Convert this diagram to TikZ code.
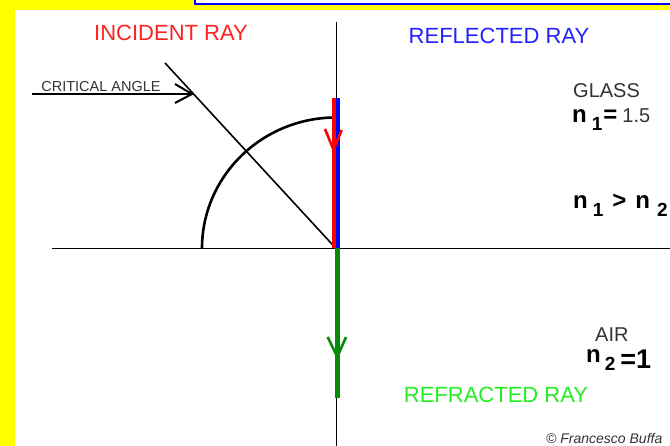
\documentclass[tikz,border=0pt]{standalone}
\usepackage{fontspec}
\setmainfont{Liberation Sans}
\definecolor{rayred}{HTML}{FF0000}
\definecolor{rayblue}{HTML}{0000FF}
\definecolor{raygreen}{HTML}{0A8A0A}
\definecolor{textred}{HTML}{FF2222}
\definecolor{textblue}{HTML}{2222FF}
\definecolor{textgreen}{HTML}{22EE22}
\definecolor{inkgray}{HTML}{333333}
\definecolor{bgyellow}{HTML}{FFFF00}
\usetikzlibrary{positioning}

\begin{document}
\begin{tikzpicture}[x=1pt,y=1pt,
    caption/.style={inner sep=0pt,font=\fontsize{22}{22}\selectfont},
    ray/.style={line width=4pt},
    barb/.style={line width=2.6pt}]
    \clip (0,0) rectangle (670,446);
    \fill[bgyellow] (0,0) rectangle (670,446);
    \fill[white] (15,0) rectangle (670,436);
    \draw[rayblue,fill=white,line width=2pt] (195,441.5) rectangle (700,470);
    % axes
    \coordinate (O) at (336,197.5);
    \coordinate (top) at (336,424);
    \coordinate (bottom) at (336,-5);
    \coordinate (left) at (52,197.5);
    \coordinate (right) at (675,197.5);
    \draw[line width=1pt] (top) -- (bottom);
    \draw[line width=1pt] (left) -- (right);
    % critical angle line and arc
    \coordinate (crit) at (165,383);
    \draw[line width=1.6pt] (crit) -- (O);
    \draw[line width=2.6pt] (202,197.5) arc[start angle=180,end angle=90,x radius=134,y radius=131] -- (O |- 0,328.5);
    % rays
    \draw[ray,rayred] (333.8,197.5) -- (333.8,348);
    \draw[ray,rayblue] (338,197.5) -- (338,348);
    \draw[barb,rayred] (325,317) -- (333.6,296) -- (341.7,316);
    \draw[line width=4.5pt,raygreen] (337.3,197.5) -- (337.3,48);
    \draw[barb,raygreen] (327.7,109) -- (337.3,89) -- (346,109);
    % labels
    \node[caption,textred] (incident) at (171,413) {INCIDENT RAY};
    \node[caption,textblue] (reflected) at (499,410) {REFLECTED RAY};
    \node[caption,textgreen] (refracted) at (496,51.5) {REFRACTED RAY};
    \node[inner sep=0pt,inkgray,font=\fontsize{14.5}{14.5}\selectfont] (critlabel) at (101,359) {CRITICAL ANGLE};
    \coordinate (tip) at (192,352);
    \draw[line width=2pt] (32,352) -- (tip);
    \draw[line width=2pt] (175,362) -- (tip) -- (175,343);
    % media
    \node[inner sep=0pt,anchor=base west,inkgray,font=\fontsize{20}{20}\selectfont] (glass) at (573,348) {GLASS};
    \node[inner sep=0pt,anchor=base west,font=\fontsize{24}{24}\selectfont\bfseries] (n1) at (572,323)
        {n\hspace{5pt}\raisebox{-8pt}{\fontsize{19}{19}\selectfont 1}\hspace{1pt}=\hspace{5pt}{\mdseries\color{inkgray}\fontsize{20}{20}\selectfont 1.5}};
    \node[inner sep=0pt,anchor=base west,font=\fontsize{24}{24}\selectfont\bfseries] (ineq) at (573,237)
        {n\hspace{5pt}\raisebox{-8pt}{\fontsize{19}{19}\selectfont 1}\hspace{9pt}>\hspace{9pt}n\hspace{7pt}\raisebox{-8pt}{\fontsize{19}{19}\selectfont 2}};
    \node[inner sep=0pt,anchor=base west,inkgray,font=\fontsize{20}{20}\selectfont] (air) at (595,104) {AIR};
    \node[inner sep=0pt,anchor=base west,font=\fontsize{24}{24}\selectfont\bfseries] (n2) at (586,83)
        {n\hspace{4pt}\raisebox{-8pt}{\fontsize{19}{19}\selectfont 2}\hspace{5pt}\raisebox{-6pt}{\fontsize{27}{27}\selectfont =1}};
    \node[inner sep=0pt,anchor=base west,inkgray,font=\fontsize{14}{14}\selectfont\itshape] (credit) at (546,2) {© Francesco Buffa};
\end{tikzpicture}
\end{document}
